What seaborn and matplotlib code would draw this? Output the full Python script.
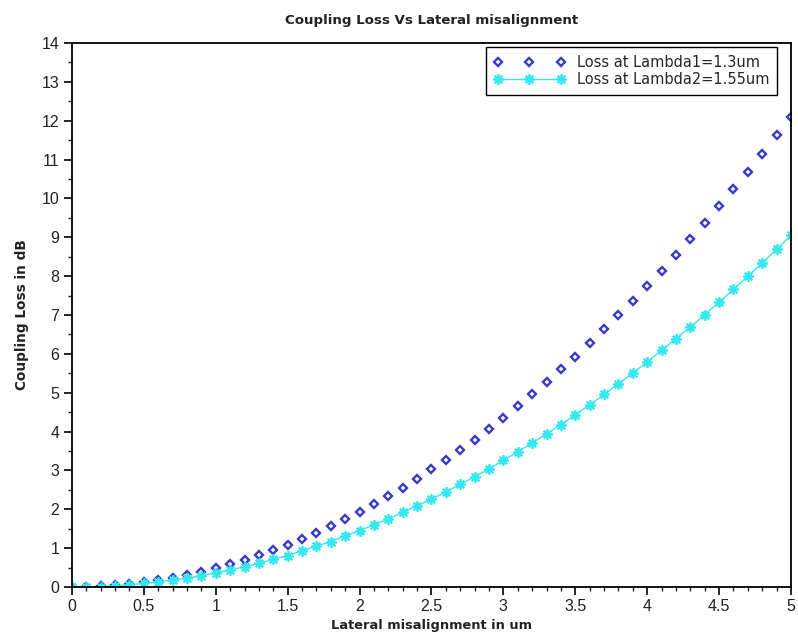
import matplotlib
matplotlib.use("Agg")
import matplotlib.pyplot as plt
from matplotlib.ticker import MultipleLocator
import seaborn as sns
import pandas as pd

# Lateral misalignment (um)
misalignment = [0.0, 0.1, 0.2, 0.3, 0.4, 0.5, 0.6, 0.7, 0.8, 0.9,
                1.0, 1.1, 1.2, 1.3, 1.4, 1.5, 1.6, 1.7, 1.8, 1.9,
                2.0, 2.1, 2.2, 2.3, 2.4, 2.5, 2.6, 2.7, 2.8, 2.9,
                3.0, 3.1, 3.2, 3.3, 3.4, 3.5, 3.6, 3.7, 3.8, 3.9,
                4.0, 4.1, 4.2, 4.3, 4.4, 4.5, 4.6, 4.7, 4.8, 4.9, 5.0]

# Coupling loss (dB) at 1.3 um
loss_l1 = [0.00, 0.00, 0.02, 0.04, 0.08, 0.12, 0.17, 0.24, 0.31, 0.39,
           0.48, 0.59, 0.70, 0.82, 0.95, 1.09, 1.24, 1.40, 1.57, 1.75,
           1.94, 2.13, 2.34, 2.56, 2.79, 3.03, 3.27, 3.53, 3.79, 4.07,
           4.36, 4.65, 4.96, 5.27, 5.60, 5.93, 6.27, 6.63, 6.99, 7.36,
           7.74, 8.14, 8.54, 8.95, 9.37, 9.80, 10.24, 10.69, 11.15, 11.62, 12.10]

# Coupling loss (dB) at 1.55 um
loss_l2 = [0.00, 0.00, 0.01, 0.03, 0.06, 0.09, 0.13, 0.18, 0.23, 0.29,
           0.36, 0.44, 0.52, 0.61, 0.71, 0.81, 0.93, 1.05, 1.17, 1.31,
           1.45, 1.60, 1.75, 1.92, 2.09, 2.26, 2.45, 2.64, 2.84, 3.04,
           3.26, 3.48, 3.71, 3.94, 4.18, 4.43, 4.69, 4.96, 5.23, 5.51,
           5.79, 6.09, 6.39, 6.69, 7.01, 7.33, 7.66, 8.00, 8.34, 8.69, 9.05]

x_ticks = [0, 0.5, 1, 1.5, 2, 2.5, 3, 3.5, 4, 4.5, 5]
y_ticks = list(range(0, 15))

df = pd.DataFrame({"d": misalignment, "l1": loss_l1, "l2": loss_l2})

sns.set_theme(style="ticks")
plt.rcParams["font.family"] = ["Liberation Sans", "DejaVu Sans"]

fig = plt.figure(figsize=(7.98, 6.43), dpi=100)
ax = fig.add_axes([0.0902, 0.0871, 0.9010, 0.8460])

blue = "#3a3ac8"
cyan = "#33e8ee"

sns.lineplot(data=df, x="d", y="l1", ax=ax, linestyle="none", marker="D",
             markersize=4.2, markerfacecolor="none", markeredgecolor=blue,
             markeredgewidth=1.7, color=blue, label="Loss at Lambda1=1.3um")
sns.lineplot(data=df, x="d", y="l2", ax=ax, color=cyan, linewidth=1.0,
             marker=(8, 2, 0), markersize=7.5, markeredgecolor=cyan,
             markeredgewidth=1.3, label="Loss at Lambda2=1.55um")

ax.set_xlim(0, 5)
ax.set_ylim(0, 14)
ax.set_xticks(x_ticks)
ax.set_xticklabels([f"{t:g}" for t in x_ticks])
ax.set_yticks(y_ticks)
ax.xaxis.set_minor_locator(MultipleLocator(0.1))
ax.yaxis.set_minor_locator(MultipleLocator(0.5))
ax.tick_params(axis="both", which="major", direction="out", length=6,
               width=1.2, labelsize=11.5, colors="black", pad=3)
ax.tick_params(axis="both", which="minor", direction="out", length=3, width=1.0)
ax.tick_params(top=False, right=False, which="both")
for lbl in ax.get_xticklabels() + ax.get_yticklabels():
    lbl.set_color("#222222")

for s in ax.spines.values():
    s.set_visible(True)
    s.set_linewidth(1.3)
    s.set_color("black")

label_font = dict(family=["DejaVu Sans"], fontweight="bold", color="#222222")
ax.set_title("Coupling Loss Vs Lateral misalignment", pad=14, fontsize=9.6,
             **label_font)
ax.set_xlabel("Lateral misalignment in um", labelpad=3, fontsize=9.4,
              **label_font)
ax.set_ylabel("Coupling Loss in dB", labelpad=9, fontsize=9.8, **label_font)

leg = ax.legend(loc="upper right", bbox_to_anchor=(0.987, 1.0), numpoints=3,
                handlelength=4.9, prop={"family": "DejaVu Sans", "size": 10.5},
                frameon=True, fancybox=False, borderpad=0.55,
                labelspacing=0.1, handletextpad=0.8, borderaxespad=0.3)
leg.get_frame().set_edgecolor("black")
leg.get_frame().set_linewidth(1.0)
leg.get_frame().set_alpha(1.0)

fig.savefig("out.png", dpi=100)
